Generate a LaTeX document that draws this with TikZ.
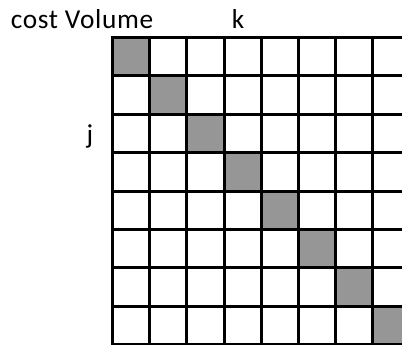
\documentclass[tikz,border=0pt]{standalone}
\usepackage{fontspec}
\setmainfont{Carlito}
\usepackage{tikz}
\usetikzlibrary{positioning}
\definecolor{cellgray}{HTML}{969696}
\tikzset{gridline/.style={line width=2.25pt,draw=black},diagcell/.style={fill=cellgray},lbl/.style={font=\fontsize{20.5}{24}\selectfont\addfontfeature{LetterSpace=2.5},inner sep=0pt,text=black}}
\begin{document}
\begin{tikzpicture}[x=0.75pt,y=-0.75pt]
\useasboundingbox (0,0) rectangle (402,344);
\clip (0,0) rectangle (402,344);
% diagonal cells
\foreach \i in {0,...,7}
 {\fill[diagcell] (112.5+37.2*\i,37.5+38.4*\i) rectangle ++(37.2,38.4);}
% grid
\foreach \i in {0,...,8}
 {\draw[gridline] (111.4,37.5+38.4*\i) -- (410,37.5+38.4*\i);}
\foreach \i in {0,...,7}
 {\draw[gridline] (112.5+37.2*\i,36.4) -- (112.5+37.2*\i,350);}
\node[lbl,anchor=base west] (title) at (10.5,28.5) {cost Volume};
\node[lbl,anchor=base] (klabel) at (238,28.8) {k};
\node[lbl,anchor=base] (jlabel) at (90,143) {j};
\end{tikzpicture}
\end{document}
